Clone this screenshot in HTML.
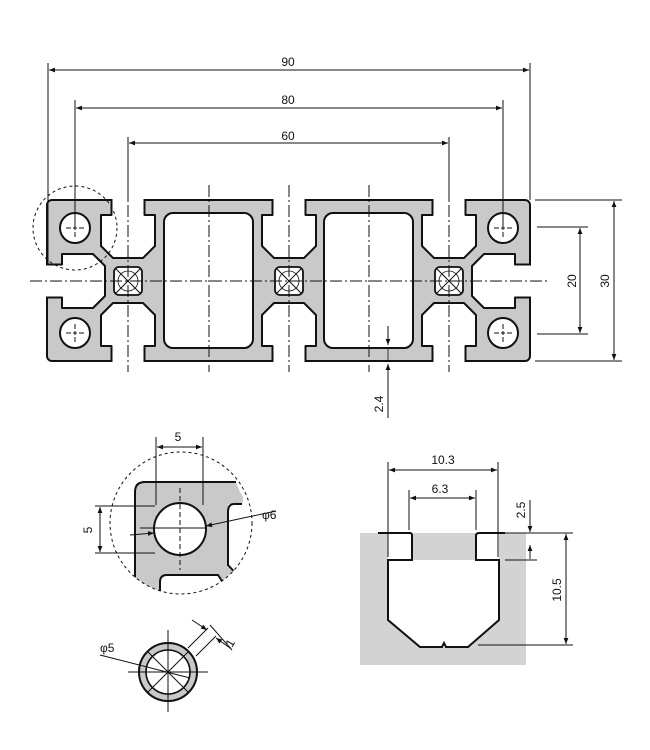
<!DOCTYPE html>
<html><head><meta charset="utf-8"><style>
html,body{margin:0;padding:0;background:#fff;}
svg{display:block;}
text{font-family:"Liberation Sans",sans-serif;font-size:12px;fill:#111;}
</style></head><body>
<svg width="650" height="750" viewBox="0 0 650 750" xmlns="http://www.w3.org/2000/svg">
<defs>
<marker id="a" viewBox="0 0 10 10" refX="10" refY="5" markerWidth="8" markerHeight="6" orient="auto-start-reverse" markerUnits="userSpaceOnUse"><path d="M0,1 L10,5 L0,9 Z" fill="#111"/></marker>
<path id="slot" d="M-16.5,-1 L-16.5,15 L-27,15 L-27,46 L-15,58 L15,58 L27,46 L27,15 L16.5,15 L16.5,-1" fill="#fff" stroke="#111" stroke-width="2" stroke-linejoin="round"/>
<g id="core"><rect x="-14" y="-14" width="28" height="28" rx="5" fill="#fff" stroke="#111" stroke-width="1.8"/><path d="M-12,-12 L12,12 M12,-12 L-12,12" stroke="#111" stroke-width="1"/><circle r="10" fill="none" stroke="#111" stroke-width="0.8"/></g>
<g id="hole"><circle r="15" fill="#fff" stroke="#111" stroke-width="2"/><path d="M-9,0 H-4 M-2,0 H2 M4,0 H9 M0,-9 V-4 M0,-2 V2 M0,4 V9" stroke="#111" stroke-width="1"/></g>
</defs>

<rect x="47" y="200" width="483" height="161" rx="5" fill="#c9c9c9" stroke="#111" stroke-width="2"/>
<use href="#slot" transform="translate(128,200)"/>
<use href="#slot" transform="translate(289,200)"/>
<use href="#slot" transform="translate(449,200)"/>
<use href="#slot" transform="translate(128,361) scale(1,-1)"/>
<use href="#slot" transform="translate(289,361) scale(1,-1)"/>
<use href="#slot" transform="translate(449,361) scale(1,-1)"/>
<use href="#slot" transform="matrix(0,1,1,0,47,281)"/>
<use href="#slot" transform="matrix(0,1,-1,0,530,281)"/>
<rect x="164" y="213" width="89" height="135" rx="9" fill="#fff" stroke="#111" stroke-width="2"/>
<rect x="324" y="213" width="89" height="135" rx="9" fill="#fff" stroke="#111" stroke-width="2"/>
<use href="#core" transform="translate(128,281)"/>
<use href="#core" transform="translate(289,281)"/>
<use href="#core" transform="translate(449,281)"/>
<use href="#hole" transform="translate(75,228)"/>
<use href="#hole" transform="translate(75,333)"/>
<use href="#hole" transform="translate(503,228)"/>
<use href="#hole" transform="translate(503,333)"/>

<g stroke="#111" stroke-width="1" stroke-dasharray="12,3,2,3" fill="none">
<path d="M30,281 H548"/>
<path d="M128,185 V372 M289,185 V372 M449,185 V372 M209,185 V372 M369,185 V372"/>
</g>
<circle cx="75" cy="228" r="42" fill="none" stroke="#111" stroke-width="1" stroke-dasharray="3,3"/>

<g stroke="#111" stroke-width="1" fill="none">
<path d="M48,63 V265 M530,63 V200 M75,100 V228 M503,100 V228 M128,137 V200 M449,137 V200"/>
<path d="M49,70 H529" marker-start="url(#a)" marker-end="url(#a)"/>
<path d="M76,108 H502" marker-start="url(#a)" marker-end="url(#a)"/>
<path d="M129,143 H448" marker-start="url(#a)" marker-end="url(#a)"/>
<path d="M535,200 H622 M535,361 H622 M537,227 H588 M537,334 H588"/>
<path d="M614,201 V360" marker-start="url(#a)" marker-end="url(#a)"/>
<path d="M580,228 V333" marker-start="url(#a)" marker-end="url(#a)"/>
<path d="M388,326 V345" marker-end="url(#a)"/>
<path d="M388,418 V364" marker-end="url(#a)"/>
<path d="M388,348 V361" stroke-width="0.8"/>
</g>
<text x="288" y="66" text-anchor="middle">90</text>
<text x="288" y="104" text-anchor="middle">80</text>
<text x="288" y="140" text-anchor="middle">60</text>
<text transform="translate(576,281) rotate(-90)" text-anchor="middle">20</text>
<text transform="translate(609,281) rotate(-90)" text-anchor="middle">30</text>
<text transform="translate(383,404) rotate(-90)" text-anchor="middle">2.4</text>

<defs><clipPath id="c1"><circle cx="181" cy="523" r="71"/></clipPath></defs>
<g clip-path="url(#c1)">
<path d="M135,600 V492 Q135,482 145,482 H236 L240,492 Q245,498 242,504 L228,504 Q228,504 228,565 L240,580 V600 Z" fill="#c9c9c9"/>
<path d="M160,600 V582 Q160,575 167,575 H218 L226,585 V600 Z" fill="#fff"/>
<path d="M135,600 V492 Q135,482 145,482 H236 M242,504 H234 Q228,504 228,512 V565 L240,578 M160,600 V582 Q160,575 167,575 H218 L228,590" fill="none" stroke="#111" stroke-width="2"/>
</g>
<circle cx="180" cy="529" r="26" fill="#fff" stroke="#111" stroke-width="2"/>
<circle cx="181" cy="523" r="71" fill="none" stroke="#111" stroke-width="1" stroke-dasharray="3,3"/>
<g stroke="#111" stroke-width="1" fill="none">
<path d="M180,488 V570" stroke-dasharray="5,3"/>
<path d="M156,437 V505 M203,437 V505"/>
<path d="M157,447 H202" marker-start="url(#a)" marker-end="url(#a)"/>
<path d="M95,506 H155 M95,553 H155"/>
<path d="M100,507 V552" marker-start="url(#a)" marker-end="url(#a)"/>
<path d="M130,535 L154,533" marker-end="url(#a)"/>
<path d="M276,511 L206,526" marker-end="url(#a)"/>
<path d="M140,528 H205"/>
</g>
<text x="178" y="441" text-anchor="middle">5</text>
<text transform="translate(92,530) rotate(-90)" text-anchor="middle">5</text>
<text x="262" y="519">φ6</text>

<circle cx="168" cy="672" r="29" fill="#c9c9c9" stroke="#111" stroke-width="2"/>
<circle cx="168" cy="672" r="22" fill="#fff" stroke="#111" stroke-width="1.6"/>
<g stroke="#111" stroke-width="1" fill="none">
<path d="M128,672 H208 M168,630 V712 M148,652 L188,692 M188,652 L148,692"/>
<path d="M100,655 L190,678"/>
<path d="M188,648 L208,628 M196,656 L216,636"/>
<path d="M192,620 L207,630" marker-end="url(#a)"/>
<path d="M230,648 L216,638" marker-end="url(#a)"/>
<path d="M210,625 L232,650"/>
</g>
<text x="100" y="652">φ5</text>
<text transform="translate(232,648) rotate(-60)">1</text>

<path d="M360,533 H388 V560 H412 V533 H476 V560 H499 V533 H526 V665 H360 Z" fill="#d3d3d3"/>
<path d="M388,560 V620 L420,647 L468,647 L499,620 V560 Z" fill="#fff"/>
<path d="M378,533 H410 Q412,533 412,536 V560 H388 V620 L420,647 H442 L444,643 L446,647 H468 L499,620 V560 H476 V536 Q476,533 479,533 H505" fill="none" stroke="#111" stroke-width="2"/>
<g stroke="#111" stroke-width="1" fill="none">
<path d="M388,462 V557 M498,462 V557 M409,490 V530 M476,490 V530"/>
<path d="M389,470 H497" marker-start="url(#a)" marker-end="url(#a)"/>
<path d="M410,498 H475" marker-start="url(#a)" marker-end="url(#a)"/>
<path d="M505,533 H573 M505,560 H537 M478,645 H573"/>
<path d="M530,500 V532" marker-end="url(#a)"/>
<path d="M530,545 V559" marker-start="url(#a)"/>
<path d="M566,534 V644" marker-start="url(#a)" marker-end="url(#a)"/>
</g>
<text x="443" y="464" text-anchor="middle">10.3</text>
<text x="440" y="493" text-anchor="middle">6.3</text>
<text transform="translate(525,510) rotate(-90)" text-anchor="middle">2.5</text>
<text transform="translate(561,590) rotate(-90)" text-anchor="middle">10.5</text>
</svg>
</body></html>
